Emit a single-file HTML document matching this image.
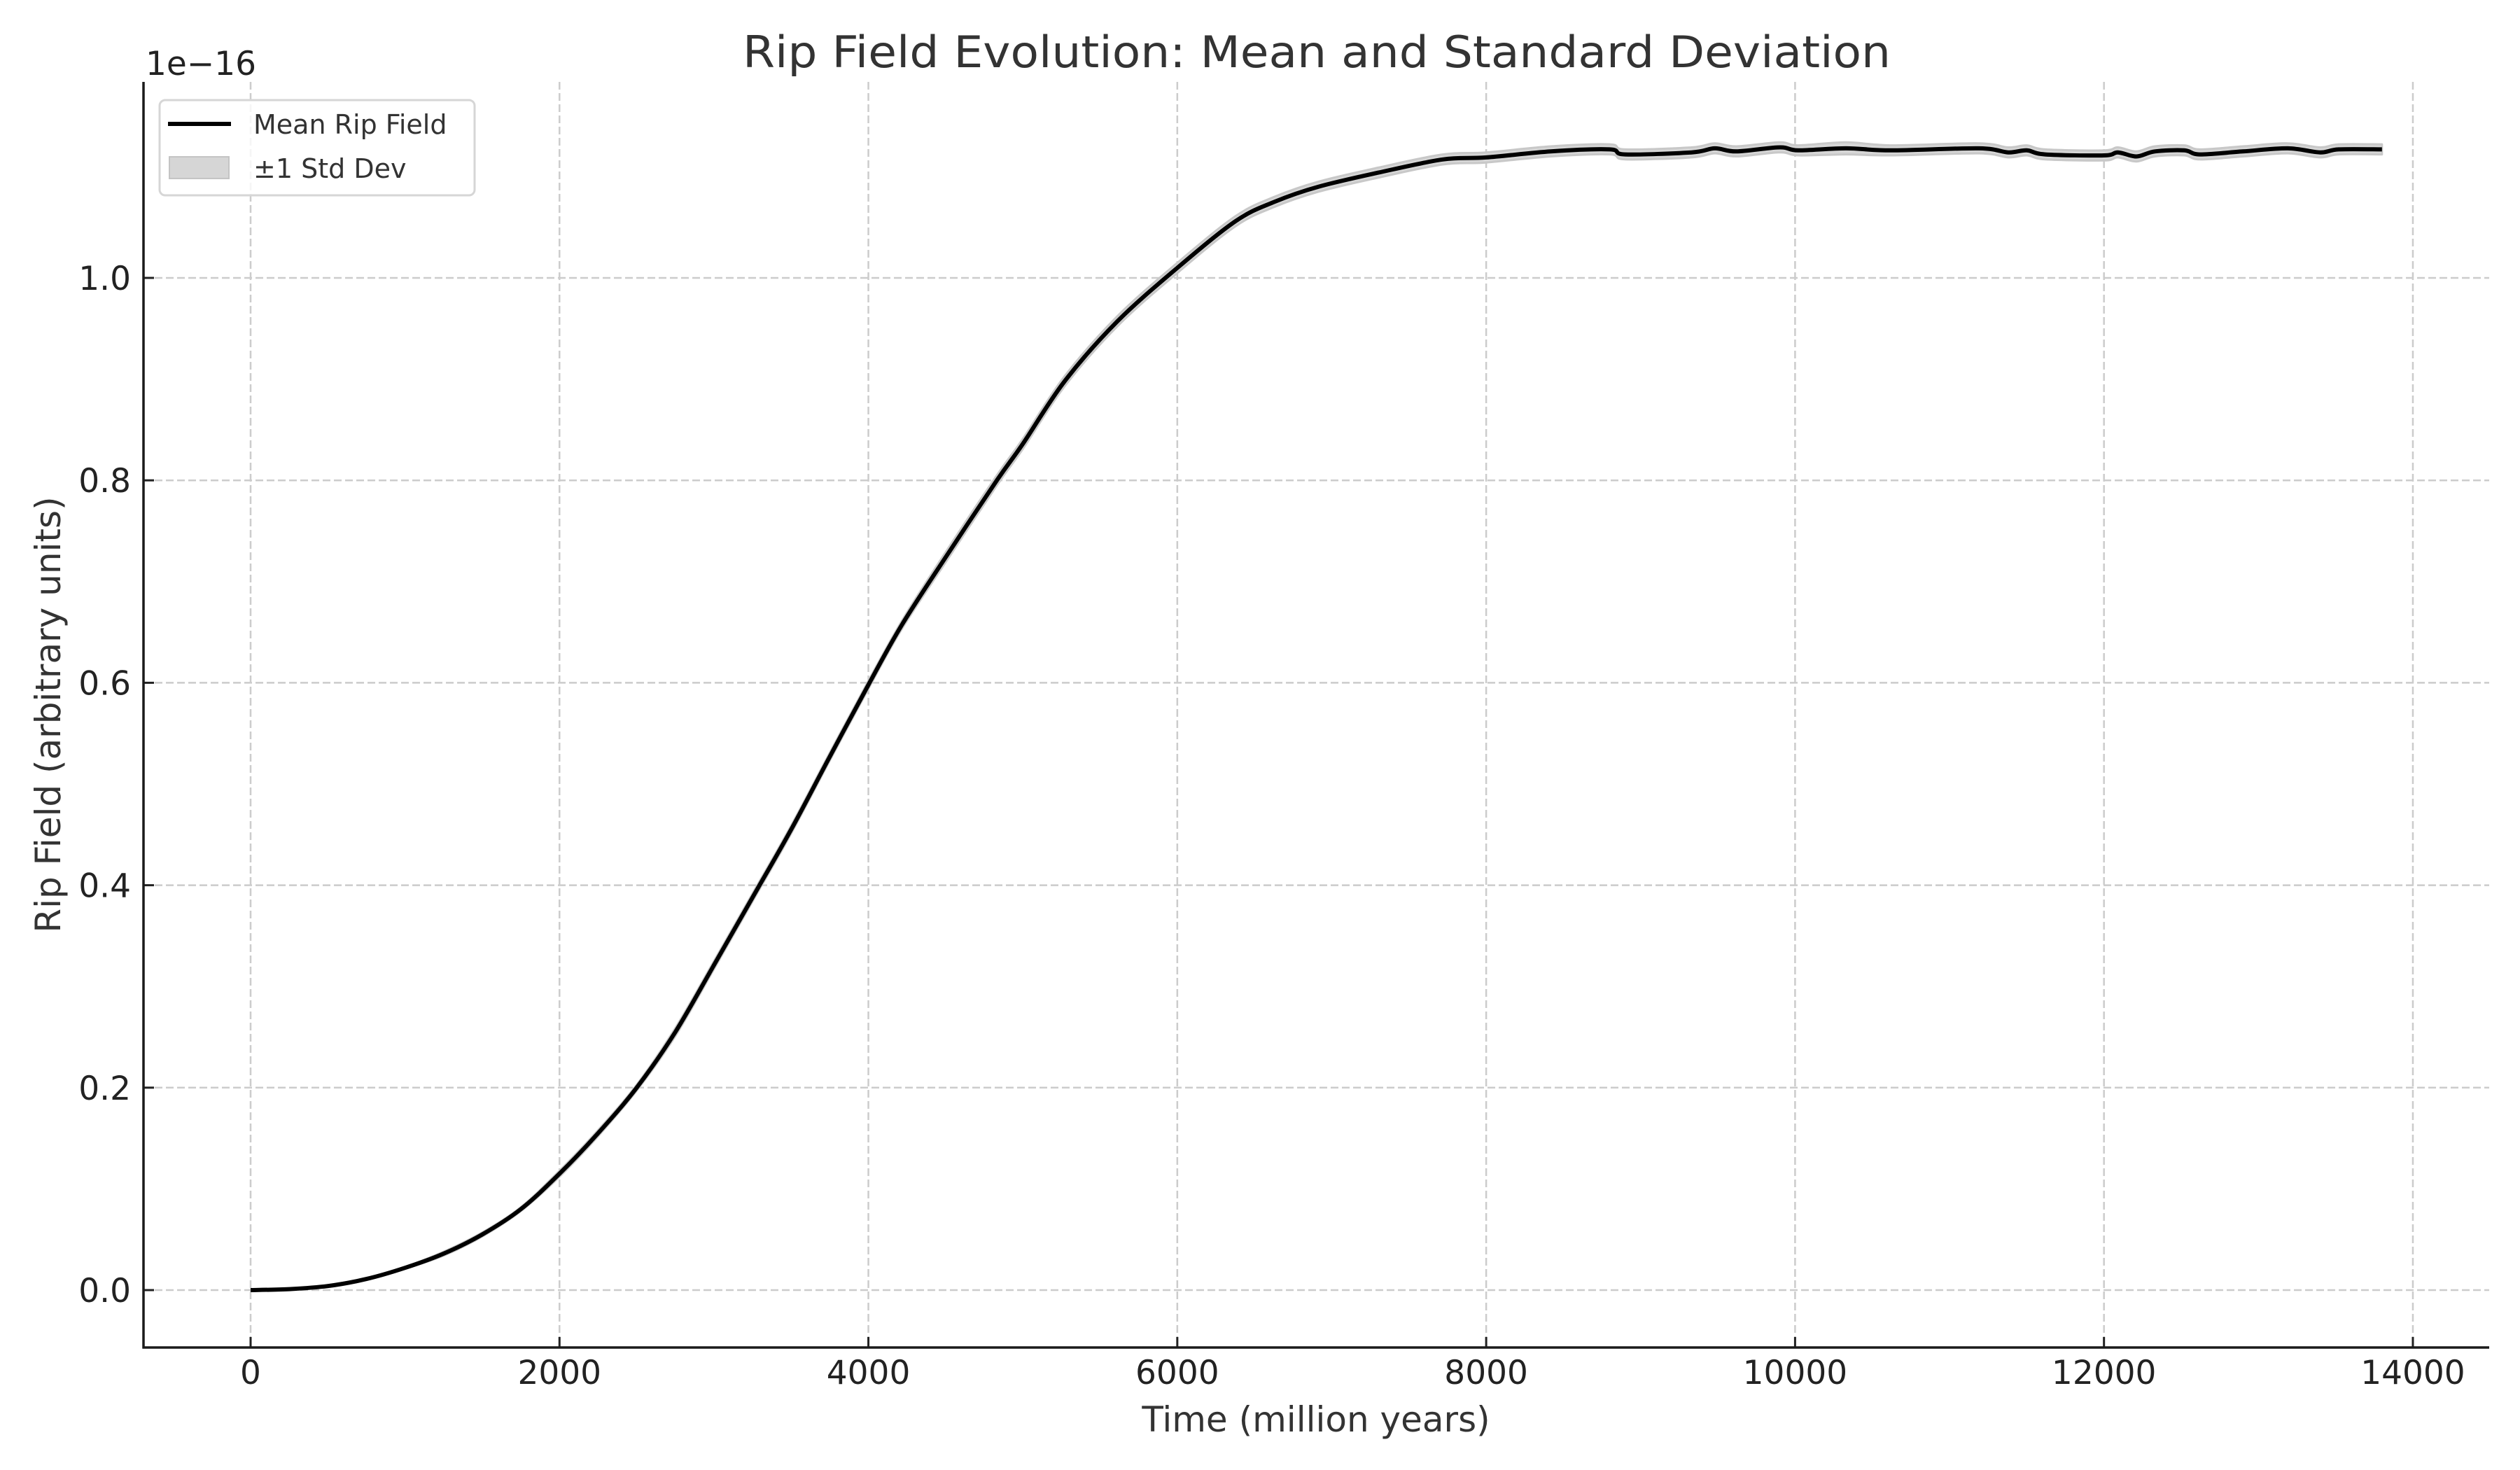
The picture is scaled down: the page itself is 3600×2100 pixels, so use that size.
<!DOCTYPE html>
<html><head><meta charset="utf-8"><style>
html,body{margin:0;padding:0;background:#fff;}
svg{display:block;font-family:"DejaVu Sans","Liberation Sans",sans-serif;}
</style></head><body>
<svg id="chart" width="3600" height="2100" viewBox="0 0 3600 2100" xmlns="http://www.w3.org/2000/svg">
<rect x="0" y="0" width="3600" height="2100" fill="#fff"/>
<g id="grid"></g>
<g id="band"></g>
<g id="line"></g>
<g id="axes"></g>
<text x="1881" y="96" font-size="62" fill="#333" text-anchor="middle" textLength="1640" lengthAdjust="spacingAndGlyphs">Rip Field Evolution: Mean and Standard Deviation</text>
<text x="1880" y="2045" font-size="50" fill="#333" text-anchor="middle">Time (million years)</text>
<text x="0" y="0" font-size="50" fill="#333" text-anchor="middle" transform="translate(86,1021) rotate(-90)">Rip Field (arbitrary units)</text>
<text x="208" y="107" font-size="47" fill="#222">1e−16</text>
<g>
<rect x="228" y="143" width="450" height="136" rx="8" fill="#fff" fill-opacity="0.8" stroke="#d6d6d6" stroke-width="3"/>
<line x1="240" y1="177" x2="330" y2="177" stroke="#000" stroke-width="6"/>
<text x="362" y="191" font-size="38" fill="#333">Mean Rip Field</text>
<rect x="242" y="224" width="85" height="31" fill="#d6d6d6" stroke="#c4c4c4" stroke-width="2"/>
<text x="362" y="254" font-size="38" fill="#333">±1 Std Dev</text>
</g>
</svg>
<script>
const times = [0,250,500,750,1000,1250,1500,1750,2000,2250,2500,2750,3000,3250,3500,3750,4000,4220,4500,4832,5000,5271,5611,6001,6377,6627,6912,7302,7718,8000,8420,8800,8900,9330,9480,9620,9900,10020,10330,10620,11190,11380,11500,11620,12000,12090,12210,12330,12520,12620,12900,13190,13400,13520,13800];
const meanVals = [0,0.001,0.004,0.011,0.022,0.036,0.055,0.08,0.115,0.155,0.2,0.255,0.321,0.388,0.455,0.527,0.598,0.658,0.724,0.800,0.836,0.898,0.957,1.010,1.056,1.075,1.090,1.104,1.117,1.119,1.125,1.127,1.122,1.124,1.128,1.125,1.129,1.126,1.128,1.126,1.128,1.124,1.126,1.122,1.121,1.124,1.120,1.125,1.126,1.122,1.125,1.128,1.124,1.127,1.127];
const stdVals = [0,0,0.001,0.001,0.001,0.002,0.002,0.002,0.003,0.003,0.003,0.004,0.004,0.004,0.004,0.004,0.004,0.004,0.005,0.005,0.005,0.005,0.005,0.005,0.005,0.005,0.005,0.005,0.005,0.005,0.005,0.005,0.005,0.005,0.005,0.005,0.005,0.005,0.006,0.005,0.005,0.005,0.005,0.005,0.005,0.005,0.005,0.005,0.005,0.005,0.005,0.005,0.005,0.005,0.005];
const xTicks = [0,2000,4000,6000,8000,10000,12000,14000];
const yTicks = [0,0.2,0.4,0.6,0.8,1.0];
const yTickLabels = ["0.0","0.2","0.4","0.6","0.8","1.0"];

const NS = "http://www.w3.org/2000/svg";
const X0 = 358, XS = 0.22064;
const Y0 = 1843, YS = 1446;
const L = 205, R = 3556, T = 117, B = 1925;
function sx(t){ return X0 + t*XS; }
function sy(v){ return Y0 - v*YS; }
function mk(tag, parent){ const e = document.createElementNS(NS, tag); parent.appendChild(e); return e; }
function smooth(p, move){
  let d = (move ? 'M' : 'L') + p[0][0].toFixed(1) + ',' + p[0][1].toFixed(1);
  for (let i = 0; i < p.length - 1; i++) {
    const p0 = p[Math.max(0, i-1)], p1 = p[i], p2 = p[i+1], p3 = p[Math.min(p.length-1, i+2)];
    const c1x = p1[0] + (p2[0]-p0[0])/6, c1y = p1[1] + (p2[1]-p0[1])/6;
    const c2x = p2[0] - (p3[0]-p1[0])/6, c2y = p2[1] - (p3[1]-p1[1])/6;
    d += 'C' + c1x.toFixed(1) + ',' + c1y.toFixed(1) + ' ' + c2x.toFixed(1) + ',' + c2y.toFixed(1) + ' ' + p2[0].toFixed(1) + ',' + p2[1].toFixed(1);
  }
  return d;
}

const grid = document.getElementById('grid');
const axes = document.getElementById('axes');
xTicks.forEach(t => {
  const g = mk('line', grid);
  
  
  g.setAttribute('x1', sx(t)); g.setAttribute('x2', sx(t));
  g.setAttribute('y1', T); g.setAttribute('y2', B);
  g.setAttribute('stroke', '#cccccc'); g.setAttribute('stroke-width', '2.5'); g.setAttribute('stroke-dasharray', '11 5');
  const tk = mk('line', axes);
  
  
  tk.setAttribute('x1', sx(t)); tk.setAttribute('x2', sx(t));
  tk.setAttribute('y1', B); tk.setAttribute('y2', B - 15);
  tk.setAttribute('stroke', '#222'); tk.setAttribute('stroke-width', '3');
  const lb = mk('text', axes);
  
  
  lb.setAttribute('x', sx(t)); lb.setAttribute('y', 1977);
  lb.setAttribute('font-size', '47'); lb.setAttribute('fill', '#222'); lb.setAttribute('text-anchor', 'middle');
  lb.textContent = String(t);
});
yTicks.forEach((v, i) => {
  const g = mk('line', grid);
  
  
  g.setAttribute('x1', L); g.setAttribute('x2', R);
  g.setAttribute('y1', sy(v)); g.setAttribute('y2', sy(v));
  g.setAttribute('stroke', '#cccccc'); g.setAttribute('stroke-width', '2.5'); g.setAttribute('stroke-dasharray', '11 5');
  const tk = mk('line', axes);
  
  
  tk.setAttribute('x1', L); tk.setAttribute('x2', L + 15);
  tk.setAttribute('y1', sy(v)); tk.setAttribute('y2', sy(v));
  tk.setAttribute('stroke', '#222'); tk.setAttribute('stroke-width', '3');
  const lb = mk('text', axes);
  
  
  lb.setAttribute('x', 187); lb.setAttribute('y', sy(v) + 17);
  lb.setAttribute('font-size', '47'); lb.setAttribute('fill', '#222'); lb.setAttribute('text-anchor', 'end');
  lb.textContent = yTickLabels[i];
});

// band
const upPts = times.map((t, i) => [sx(t), sy(meanVals[i] + stdVals[i])]);
const dnPts = times.map((t, i) => [sx(t), sy(meanVals[i] - stdVals[i])]).reverse();
const band = mk('path', document.getElementById('band'));


band.setAttribute('d', smooth(upPts, true) + smooth(dnPts, false) + 'Z');
band.setAttribute('fill', '#d6d6d6'); band.setAttribute('stroke', '#c8c8c8'); band.setAttribute('stroke-width', '3'); band.setAttribute('stroke-linejoin', 'round');

// mean line
const linePts = times.map((t, i) => [sx(t), sy(meanVals[i])]);
const ln = mk('path', document.getElementById('line'));


ln.setAttribute('d', smooth(linePts, true));
ln.setAttribute('fill', 'none'); ln.setAttribute('stroke', '#000'); ln.setAttribute('stroke-width', '6'); ln.setAttribute('stroke-linejoin', 'round');

// spines
const sl = mk('line', axes);


sl.setAttribute('x1', L); sl.setAttribute('x2', L); sl.setAttribute('y1', T); sl.setAttribute('y2', B + 1.5);
sl.setAttribute('stroke', '#1a1a1a'); sl.setAttribute('stroke-width', '3.5');
const sb = mk('line', axes);


sb.setAttribute('x1', L - 1.5); sb.setAttribute('x2', R); sb.setAttribute('y1', B); sb.setAttribute('y2', B);
sb.setAttribute('stroke', '#1a1a1a'); sb.setAttribute('stroke-width', '3.5');
</script>
</body></html>
